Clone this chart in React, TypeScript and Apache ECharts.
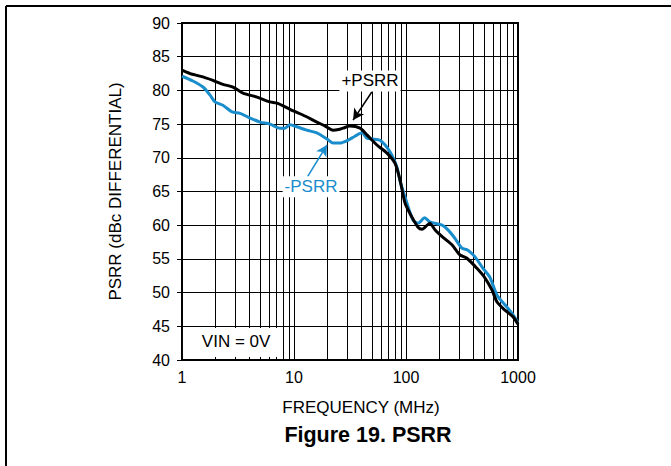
import React, { useEffect, useRef } from "react";
import * as echarts from "echarts";

// +PSRR (black) trace
const freqPlus = [1, 1.18, 1.31, 1.6, 1.89, 2.32, 2.85, 3.5, 4.67, 6.1, 7.05, 9.2, 12, 16, 19, 22.3, 25, 27.4, 31.6, 38.9, 44.8, 55, 67.6, 79.7, 88.5, 98, 113, 128, 139, 150, 163, 182, 214, 257, 303, 350, 430, 506, 585, 650, 764, 904, 1000];
const psrrPlus = [83.0, 82.5, 82.3, 81.9, 81.5, 80.9, 80.5, 79.6, 79.0, 78.3, 78.1, 77.2, 76.35, 75.3, 74.7, 74.1, 74.2, 74.4, 74.7, 74.4, 73.4, 71.9, 70.7, 69.2, 66.7, 63.3, 61.2, 59.7, 59.4, 59.8, 60.3, 59.3, 58.2, 57.1, 55.6, 55.1, 53.6, 52.2, 50.4, 48.6, 47.4, 46.4, 45.3];

// -PSRR (blue) trace
const freqMinus = [1, 1.25, 1.54, 1.78, 1.97, 2.32, 2.8, 3.3, 4.05, 4.97, 6.1, 7.5, 8.3, 9.2, 10.6, 13, 16, 19.7, 22.3, 25.6, 30.3, 35, 40.5, 44.8, 50, 58.7, 71.9, 83, 88, 98, 115, 128, 147, 163, 210, 237, 272, 315, 357, 413, 487, 560, 650, 764, 904, 1000];
const psrrMinus = [82.1, 81.4, 80.5, 79.3, 78.3, 77.8, 76.8, 76.6, 75.9, 75.3, 75.0, 74.4, 74.4, 74.9, 74.6, 74.1, 73.7, 72.8, 72.2, 72.2, 72.6, 73.2, 73.7, 72.9, 72.8, 72.6, 70.9, 68.6, 66.7, 64.2, 60.8, 60.3, 61.1, 60.5, 60.0, 59.3, 58.1, 56.6, 56.3, 55.3, 53.6, 52.3, 49.6, 48.2, 46.7, 45.5];

// axis definitions
const xMin = 1;
const xMax = 1000;
const yMin = 40;
const yMax = 90;
const yStep = 5;
const minorFreqs = [2, 3, 4, 5, 6, 7, 8, 9, 20, 30, 40, 50, 60, 70, 80, 90, 200, 300, 400, 500, 600, 700, 800, 900];

// annotations (data coordinates)
const plusLabel = { text: "+PSRR", at: [47.7, 81.4] };
const plusArrow = { from: [49.7, 79.8], to: [33.7, 75.6] };
const minusLabel = { text: "-PSRR", at: [14.2, 65.7] };
const minusArrow = { from: [13.1, 67.1], to: [19.7, 71.9] };
const vinLabel = { text: "VIN = 0V", at: [3.04, 42.8] };
const vinBox = { from: [1.02, 40.45], to: [7.5, 44.75] };

const BLUE = "#1a8dcc";
const FONT = "'Liberation Sans', Arial, Helvetica, sans-serif";

export default function App() {
  const ref = useRef<HTMLDivElement>(null);
  useEffect(() => {
    const chart = echarts.init(ref.current!, null, { renderer: "svg" });
    const zip = (xs: number[], ys: number[]) => xs.map((x, i) => [x, ys[i]]);
    chart.setOption({
      animation: false,
      backgroundColor: "#fff",
      textStyle: { fontFamily: FONT },
      grid: {
        left: 182,
        top: 23,
        right: 153,
        bottom: 106,
        show: true,
        borderColor: "#000",
        borderWidth: 2,
        backgroundColor: "transparent",
      },
      xAxis: {
        type: "log",
        logBase: 10,
        min: xMin,
        max: xMax,
        axisLine: { show: true, lineStyle: { color: "#000", width: 2 } },
        axisTick: { show: false },
        splitLine: { show: true, lineStyle: { color: "#000", width: 1 } },
        axisLabel: {
          color: "#000",
          fontSize: 16,
          margin: 9,
          fontFamily: FONT,
          formatter: (v: number) => String(Math.round(v)),
        },
        name: "FREQUENCY (MHz)",
        nameLocation: "middle",
        nameGap: 39,
        nameTextStyle: { color: "#000", fontSize: 17, fontFamily: FONT, padding: [0, 0, 0, 22] },
      },
      yAxis: {
        type: "value",
        min: yMin,
        max: yMax,
        interval: yStep,
        axisLine: { show: true, lineStyle: { color: "#000", width: 2 } },
        axisTick: { show: true, length: 5, lineStyle: { color: "#000", width: 1 } },
        splitLine: { show: true, lineStyle: { color: "#000", width: 1 } },
        axisLabel: { color: "#000", fontSize: 16, margin: 12, fontFamily: FONT },
        name: "PSRR (dBc DIFFERENTIAL)",
        nameLocation: "middle",
        nameGap: 58,
        nameTextStyle: { color: "#000", fontSize: 17, fontFamily: FONT },
      },
      series: [
        {
          type: "line",
          name: "minorGrid",
          data: [],
          z: 1,
          silent: true,
          markLine: {
            silent: true,
            z: 1,
            symbol: ["none", "none"],
            label: { show: false },
            lineStyle: { color: "#000", width: 1, type: "solid" },
            emphasis: { disabled: true },
            data: minorFreqs.map((f) => ({ xAxis: f })),
          },
        },
        {
          type: "line",
          name: "-PSRR",
          data: zip(freqMinus, psrrMinus),
          showSymbol: false,
          symbol: "none",
          smooth: 0.25,
          z: 3,
          lineStyle: { color: BLUE, width: 3 },
          itemStyle: { color: BLUE },
        },
        {
          type: "line",
          name: "+PSRR",
          data: zip(freqPlus, psrrPlus),
          showSymbol: false,
          symbol: "none",
          smooth: 0.25,
          z: 4,
          lineStyle: { color: "#000", width: 3 },
          itemStyle: { color: "#000" },
        },
        {
          type: "line",
          name: "annotations",
          data: [],
          z: 5,
          silent: true,
          markArea: {
            silent: true,
            z: 2,
            itemStyle: { color: "#fff", opacity: 1 },
            label: { show: false },
            data: [[{ coord: vinBox.from }, { coord: vinBox.to }]],
          },
          markLine: {
            silent: true,
            z: 5,
            symbol: ["none", "arrow"],
            symbolSize: [9, 11],
            label: { show: false },
            data: [
              [
                { coord: plusArrow.from, lineStyle: { color: "#000", width: 1.5, type: "solid" } },
                { coord: plusArrow.to },
              ],
              [
                { coord: minusArrow.from, lineStyle: { color: BLUE, width: 1.5, type: "solid" } },
                { coord: minusArrow.to },
              ],
            ],
          },
          markPoint: {
            silent: true,
            z: 6,
            symbol: "rect",
            symbolSize: 1,
            itemStyle: { color: "rgba(0,0,0,0)" },
            data: [
              {
                coord: plusLabel.at,
                label: {
                  show: true,
                  position: "inside",
                  formatter: plusLabel.text,
                  color: "#000",
                  fontSize: 17,
                  fontFamily: FONT,
                  backgroundColor: "#fff",
                  padding: [2, 2],
                },
              },
              {
                coord: minusLabel.at,
                label: {
                  show: true,
                  position: "inside",
                  formatter: minusLabel.text,
                  color: BLUE,
                  fontSize: 17,
                  fontFamily: FONT,
                  backgroundColor: "#fff",
                  padding: [2, 2],
                },
              },
              {
                coord: vinLabel.at,
                label: {
                  show: true,
                  position: "inside",
                  formatter: vinLabel.text,
                  color: "#000",
                  fontSize: 17,
                  fontFamily: FONT,
                },
              },
            ],
          },
        },
      ],
      graphic: [
        { type: "line", shape: { x1: 6, y1: 6, x2: 6, y2: 466 }, style: { stroke: "#000", lineWidth: 2 } },
        { type: "line", shape: { x1: 6, y1: 6, x2: 671, y2: 6 }, style: { stroke: "#000", lineWidth: 2 } },
        {
          type: "text",
          x: 368,
          y: 435,
          style: {
            text: "Figure 19. PSRR",
            fill: "#000",
            fontSize: 21.5,
            fontWeight: "bold",
            fontFamily: FONT,
            textAlign: "center",
            textVerticalAlign: "middle",
          },
        },
      ],
    });
    return () => chart.dispose();
  }, []);
  return (
    <div
      ref={ref}
      style={{ position: "fixed", left: 0, top: 0, width: 671, height: 466, background: "#fff" }}
    />
  );
}
